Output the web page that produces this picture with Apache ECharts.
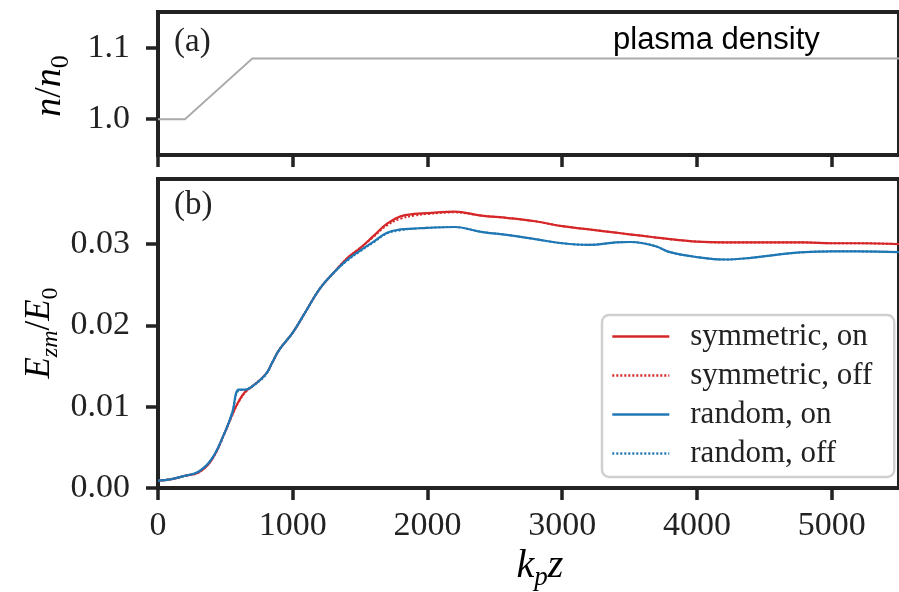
<!DOCTYPE html>
<html><head><meta charset="utf-8">
<script src="https://cdn.jsdelivr.net/npm/echarts@6/dist/echarts.min.js"></script>
<style>html,body{margin:0;padding:0;background:#fff}#c{width:899px;height:592px}</style>
</head><body><div id="c"></div>
<script>
// ---- data ----
const xs = [0,100,200,300,400,500,550,600,650,700,800,850,900,1000,1100,1200,1300,1400,1500,1600,1700,1800,1900,2000,2200,2400,2600,2800,3000,3200,3400,3500,3600,3700,3800,4000,4200,4400,4600,4800,5000,5200,5500];
const symOn  = [0.0009,0.0011,0.0015,0.0019,0.0035,0.0070,0.0090,0.0107,0.0119,0.0125,0.0140,0.0155,0.0170,0.0191,0.0218,0.0245,0.0264,0.0282,0.0295,0.0310,0.0325,0.0334,0.0337,0.0338,0.0340,0.0335,0.0332,0.0328,0.0322,0.0318,0.0314,0.0312,0.0310,0.0308,0.0306,0.0303,0.0302,0.0302,0.0302,0.0302,0.0301,0.0301,0.0300];
const symOff = [0.0009,0.0011,0.0015,0.0019,0.0035,0.0069,0.0089,0.0106,0.0118,0.0125,0.0140,0.0155,0.0170,0.0191,0.0218,0.0245,0.0264,0.0282,0.0295,0.0309,0.0323,0.0331,0.0335,0.0337,0.0339,0.0335,0.0332,0.0328,0.0322,0.0318,0.0314,0.0312,0.0310,0.0308,0.0306,0.0303,0.0302,0.0302,0.0302,0.0302,0.0301,0.0301,0.0300];
const rndOn  = [0.0009,0.0011,0.0015,0.0020,0.0036,0.0070,0.0092,0.0121,0.0121,0.0125,0.0140,0.0155,0.0170,0.0191,0.0218,0.0245,0.0264,0.0280,0.0292,0.0303,0.0314,0.0318,0.0319,0.0320,0.0321,0.0315,0.0311,0.0306,0.0301,0.0299,0.0302,0.03025,0.0301,0.0297,0.0290,0.0284,0.0281,0.0283,0.0287,0.0290,0.0291,0.0291,0.0290];
const rndOff = [0.0009,0.0011,0.0015,0.0020,0.0036,0.0070,0.0092,0.0120,0.0121,0.0125,0.0139,0.0155,0.0170,0.0191,0.0218,0.0245,0.0264,0.0279,0.0291,0.0302,0.0313,0.0317,0.0319,0.0320,0.0321,0.0315,0.0311,0.0306,0.0301,0.0299,0.0302,0.03025,0.0301,0.0297,0.0290,0.0284,0.0281,0.0283,0.0287,0.0290,0.0291,0.0291,0.0290];
const densX = [0,200,700,5500];
const densY = [1.0,1.0,1.085,1.085];
const xTicks = [0,1000,2000,3000,4000,5000];
const yTicksTop = [1.0,1.1];
const yTicksBot = [0,0.01,0.02,0.03];
const names = ['symmetric, on','symmetric, off','random, on','random, off'];

// ---- chart ----
const SERIF = '"Liberation Serif", "DejaVu Serif", serif';
const INK = '#222';
const zip = (a,b) => a.map((v,i)=>[v,b[i]]);
const chart = echarts.init(document.getElementById('c'), null, {renderer:'canvas'});
const tick = (vals) => ({show:true, inside:false, length:12, lineStyle:{color:INK, width:3.5}, customValues: vals});
const gridStyle = {show:true, borderColor:INK, borderWidth:4, backgroundColor:'transparent'};
function mkRich(fs){
  const sub = Math.round(fs*0.68);
  return {
    i:{fontFamily:SERIF, fontStyle:'italic', fontSize:fs, color:INK, lineHeight:fs+10, verticalAlign:'middle'},
    r:{fontFamily:SERIF, fontSize:fs, color:INK, lineHeight:fs+10, verticalAlign:'middle'},
    s:{fontFamily:SERIF, fontStyle:'italic', fontSize:sub, color:INK, lineHeight:sub, verticalAlign:'bottom'},
    su:{fontFamily:SERIF, fontSize:sub, color:INK, lineHeight:sub, verticalAlign:'bottom'}
  };
}
function mk(name, data, color, dotted){
  return {name, type:'line', xAxisIndex:1, yAxisIndex:1, data, symbol:'none', showSymbol:false,
    smooth:0.4, animation:false,
    lineStyle:{color, width: dotted?2:2.2, type: dotted?[2,2]:'solid'}, itemStyle:{color}};
}
chart.setOption({
  animation:false,
  grid:[
    Object.assign({left:158, top:12, width:747, height:143}, gridStyle),
    Object.assign({left:158, top:179, width:747, height:309}, gridStyle)
  ],
  xAxis:[
    {type:'value', gridIndex:0, min:0, max:5500, axisLine:{show:false}, axisTick:tick(xTicks), axisLabel:{show:false, customValues:xTicks}, splitLine:{show:false}},
    {type:'value', gridIndex:1, min:0, max:5500, axisLine:{show:false}, axisTick:tick(xTicks),
     axisLabel:{show:true, customValues:xTicks, margin:21, fontFamily:SERIF, fontSize:34, color:INK, formatter:v=>String(v)}, splitLine:{show:false}}
  ],
  yAxis:[
    {type:'value', gridIndex:0, min:0.95, max:1.15, axisLine:{show:false}, axisTick:tick(yTicksTop),
     axisLabel:{customValues:yTicksTop, margin:28, fontFamily:SERIF, fontSize:34, color:INK, formatter:v=>v.toFixed(1)}, splitLine:{show:false}},
    {type:'value', gridIndex:1, min:0, max:0.038, axisLine:{show:false}, axisTick:tick(yTicksBot),
     axisLabel:{customValues:yTicksBot, margin:28, fontFamily:SERIF, fontSize:34, color:INK, formatter:v=>v.toFixed(2)}, splitLine:{show:false}}
  ],
  legend:{
    orient:'vertical', left:602, top:315, data:names,
    backgroundColor:'#fff', borderColor:'#d0d0d0', borderWidth:2.5, borderRadius:7,
    padding:[6,22,8,9], itemWidth:57, itemHeight:14, itemGap:8,
    itemStyle:{color:'rgba(0,0,0,0)', borderWidth:0, opacity:0},
    lineStyle:{width:2.6},
    textStyle:{fontFamily:SERIF, fontSize:31, color:INK, lineHeight:30, padding:[0,0,0,16]}
  },
  series:[
    {name:'plasma density', type:'line', xAxisIndex:0, yAxisIndex:0, data:zip(densX,densY), symbol:'none', lineStyle:{color:'#aaaaaa', width:1.8}, animation:false},
    mk(names[0], zip(xs,symOn), '#d62728', false),
    mk(names[1], zip(xs,symOff), '#d62728', true),
    mk(names[2], zip(xs,rndOn), '#1f77b4', false),
    mk(names[3], zip(xs,rndOff), '#1f77b4', true)
  ],
  graphic:[
    {type:'text', left:174, top:26, style:{text:'(a)', font:'33px '+SERIF, fill:INK}},
    {type:'text', left:174, top:189, style:{text:'(b)', font:'33px '+SERIF, fill:INK}},
    {type:'text', left:613, top:25, style:{text:'plasma density', font:'31px "Liberation Sans", Arial, sans-serif', fill:'#000'}},
    {type:'text', x:50, y:86, rotation:Math.PI/2, style:{text:'{i|n}{r|/}{i|n}{su|0}', rich:mkRich(38), align:'center', verticalAlign:'middle'}},
    {type:'text', x:40, y:333, rotation:Math.PI/2, style:{text:'{i|E}{s|zm}{r|/}{i|E}{su|0}', rich:mkRich(35), align:'center', verticalAlign:'middle'}},
    {type:'text', x:540, y:566, style:{text:'{i|k}{s|p}{i|z}', rich:mkRich(40), align:'center', verticalAlign:'middle'}}
  ]
});
</script></body></html>
